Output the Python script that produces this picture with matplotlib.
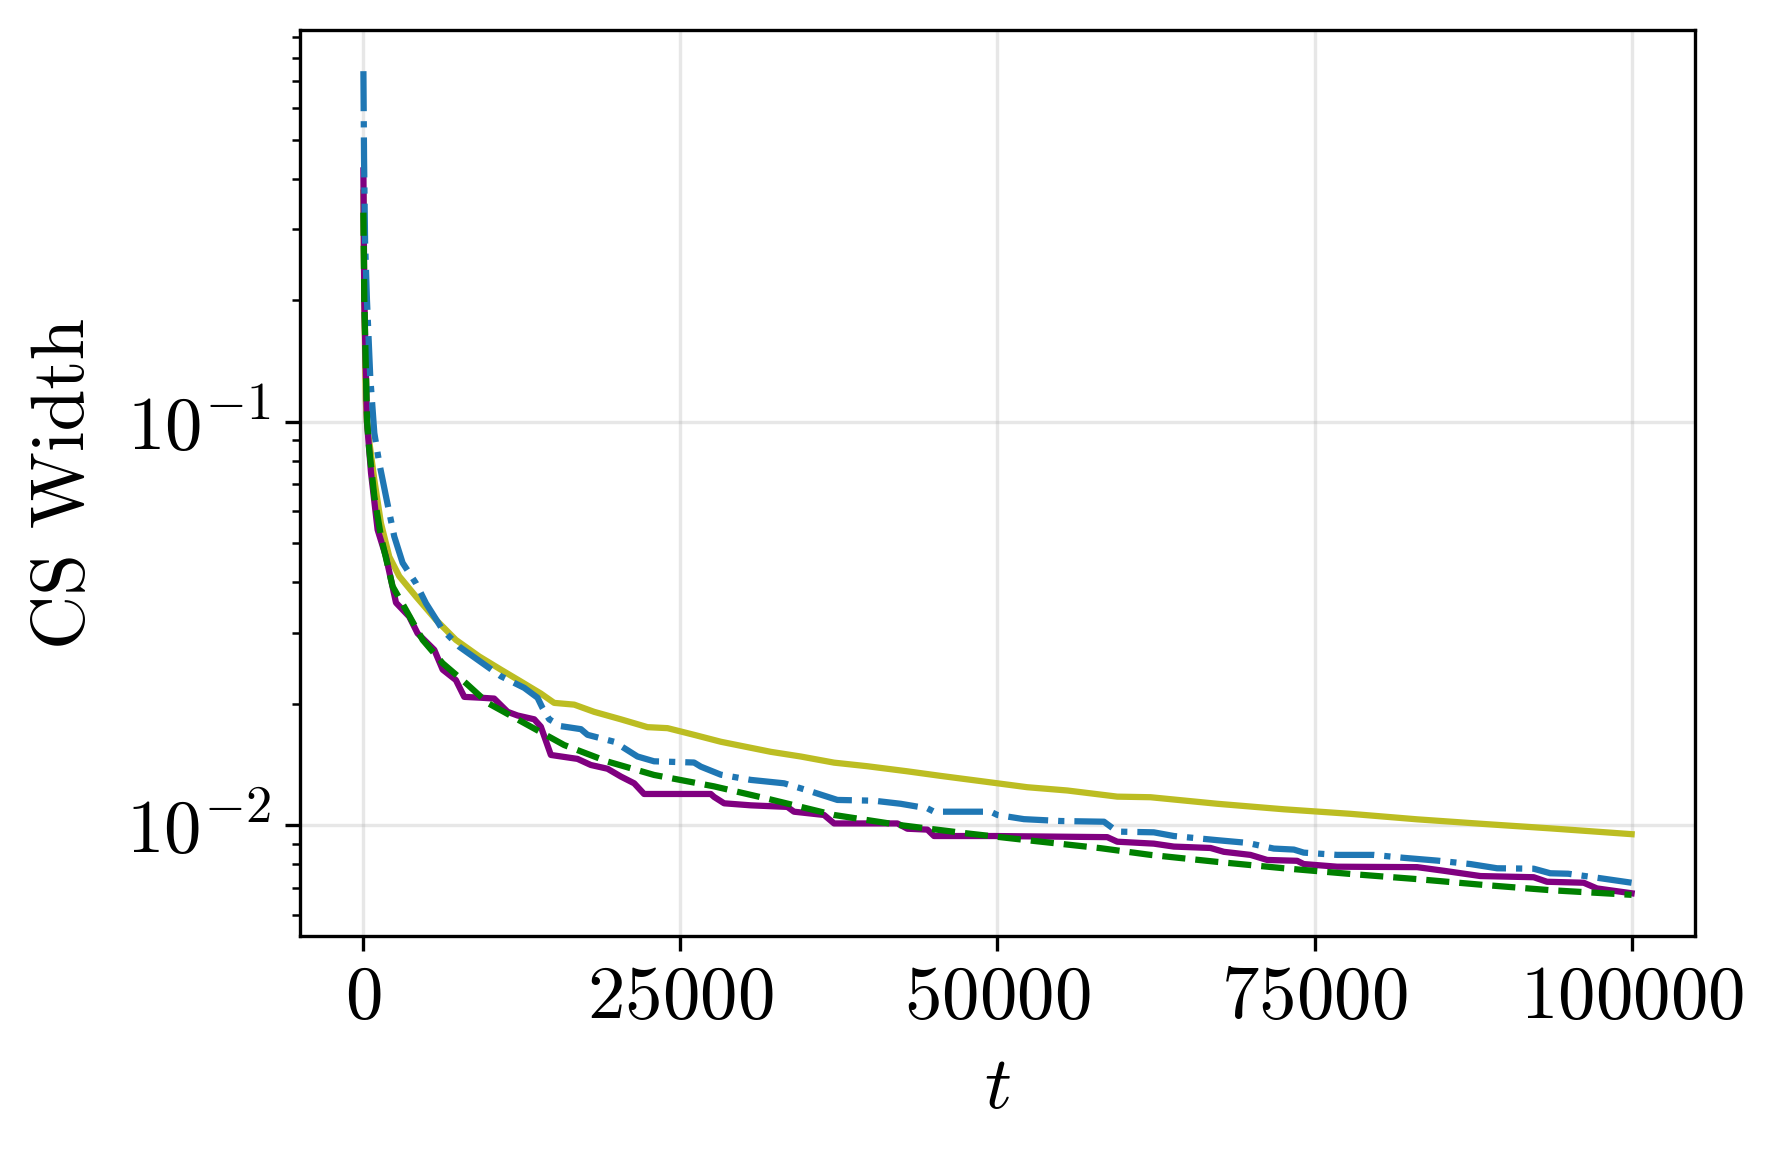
import matplotlib
matplotlib.use("Agg")
import matplotlib.pyplot as plt

# ── data (t, CS width) ──
t_blue = [10, 60, 140, 290, 550, 870, 1260, 1790, 2440, 3100, 4150, 4940, 6260,
          7570, 9410, 10850, 12690, 13740, 14140, 14660, 15580, 17160, 17680,
          19780, 21620, 22930, 26080, 26610, 28190, 30550, 33180, 35020, 37380,
          40270, 42370, 44480, 45000, 49460, 50000, 52090, 54980, 58400, 59450,
          62330, 63910, 67330, 69690, 71790, 73370, 74150, 76780, 79670, 82030,
          84660, 87290, 89390, 92280, 93590, 95000, 97000, 100000]
w_blue = [0.74, 0.45, 0.28, 0.20, 0.129, 0.0938, 0.079, 0.0653, 0.052, 0.0447,
          0.0398, 0.0355, 0.0305, 0.0277, 0.0252, 0.0234, 0.0219, 0.0207, 0.0195,
          0.0183, 0.0176, 0.0173, 0.01675, 0.0161, 0.0148, 0.0144, 0.0143,
          0.01397, 0.01334, 0.01295, 0.0127, 0.0122, 0.01155, 0.0115, 0.0113,
          0.01101, 0.0108, 0.0108, 0.0106, 0.01035, 0.01024, 0.0102, 0.00964,
          0.0096, 0.0094, 0.00918, 0.00904, 0.00875, 0.0087, 0.00855, 0.00844,
          0.00844, 0.0083, 0.00817, 0.00801, 0.00782, 0.0078, 0.0076, 0.00758,
          0.00743, 0.0072]

t_olive = [10, 80, 200, 290, 420, 870, 1390, 2050, 2840, 4150, 5730, 7300, 9140,
           10850, 12430, 14000, 15050, 16630, 18200, 20310, 22410, 23990, 26080,
           28190, 32130, 34490, 37120, 39750, 42900, 45520, 48940, 52350, 55510,
           59450, 62070, 67330, 72580, 77830, 83090, 88340, 93590, 100000]
w_olive = [0.37, 0.20, 0.113, 0.100, 0.092, 0.0719, 0.0561, 0.0463, 0.0414,
           0.0369, 0.0323, 0.0288, 0.0262, 0.0243, 0.0227, 0.0212, 0.0201, 0.0199,
           0.0191, 0.0183, 0.0175, 0.0174, 0.01675, 0.0161, 0.0152, 0.0148,
           0.01429, 0.0140, 0.0136, 0.01325, 0.01283, 0.01242, 0.01219, 0.01177,
           0.01173, 0.0113, 0.01095, 0.01067, 0.01034, 0.01007, 0.00982, 0.0095]

t_purple = [10, 80, 290, 610, 1130, 1790, 2580, 3620, 4280, 5600, 6260, 7300,
            7960, 9275, 10320, 11380, 12170, 13480, 14000, 14790, 16890, 17940,
            19260, 20310, 21360, 22140, 27400, 27660, 28450, 30550, 33440, 33960,
            36330, 37120, 42110, 42900, 44480, 45000, 49730, 58660, 59450, 62330,
            63910, 66800, 67850, 69950, 71270, 73630, 74150, 76780, 83090, 85180,
            88080, 92280, 93330, 96220, 97270, 100000]
w_purple = [0.42, 0.20, 0.100, 0.0747, 0.054, 0.0463, 0.0356, 0.0329, 0.0299,
            0.0272, 0.0243, 0.0229, 0.0208, 0.0207, 0.0206, 0.0191, 0.0187, 0.0183,
            0.01755, 0.01493, 0.0146, 0.0141, 0.0138, 0.0132, 0.0127, 0.01195,
            0.01195, 0.01175, 0.01133, 0.0112, 0.0111, 0.0108, 0.0106, 0.0101,
            0.0101, 0.0098, 0.00975, 0.0094, 0.0094, 0.00934, 0.0091, 0.0090,
            0.00885, 0.00878, 0.00859, 0.00844, 0.0082, 0.00816, 0.00801, 0.00789,
            0.00787, 0.00771, 0.00748, 0.00743, 0.00724, 0.0072, 0.00697, 0.00678]

t_green = [10, 80, 300, 470, 870, 1390, 2310, 3360, 4680, 6260, 8090, 9800,
           12430, 15840, 19260, 22930, 27660, 31870, 37120, 42370, 47630, 52880,
           58130, 62070, 67330, 72580, 77830, 83090, 88340, 93590, 100000]
w_green = [0.33, 0.20, 0.100, 0.0853, 0.0653, 0.052, 0.0391, 0.0342, 0.0288,
           0.0252, 0.0225, 0.0201, 0.0181, 0.0158, 0.01438, 0.01332, 0.01248,
           0.01163, 0.0106, 0.0100, 0.00954, 0.00914, 0.00877, 0.00844, 0.00811,
           0.00782, 0.00757, 0.00735, 0.00711, 0.0069, 0.00672]

plt.rcParams.update({
    "font.family": "serif",
    "font.serif": ["cmr10"],
    "mathtext.fontset": "cm",
    "axes.formatter.use_mathtext": True,
    "font.size": 18,
})

fig = plt.figure(figsize=(1775 / 300, 1159 / 300), dpi=300)
ax = fig.add_axes([300 / 1775, 1 - 936 / 1159, 1395 / 1775, 906 / 1159])

lw = 1.5
ax.plot(t_olive, w_olive, color="#bcbd22", lw=lw)
ax.plot(t_purple, w_purple, color="purple", lw=lw)
ax.plot(t_blue, w_blue, color="#1f77b4", lw=lw, linestyle="-.")
ax.plot(t_green, w_green, color="green", lw=lw, linestyle="--")

ax.set_yscale("log")
ax.set_xticks([0, 25000, 50000, 75000, 100000])
ax.set_xlabel("$t$", labelpad=5.5)
ax.set_ylabel("CS Width", labelpad=6.5)
ax.grid(True, which="major", alpha=0.3)

fig.savefig("out.png", dpi=300)
